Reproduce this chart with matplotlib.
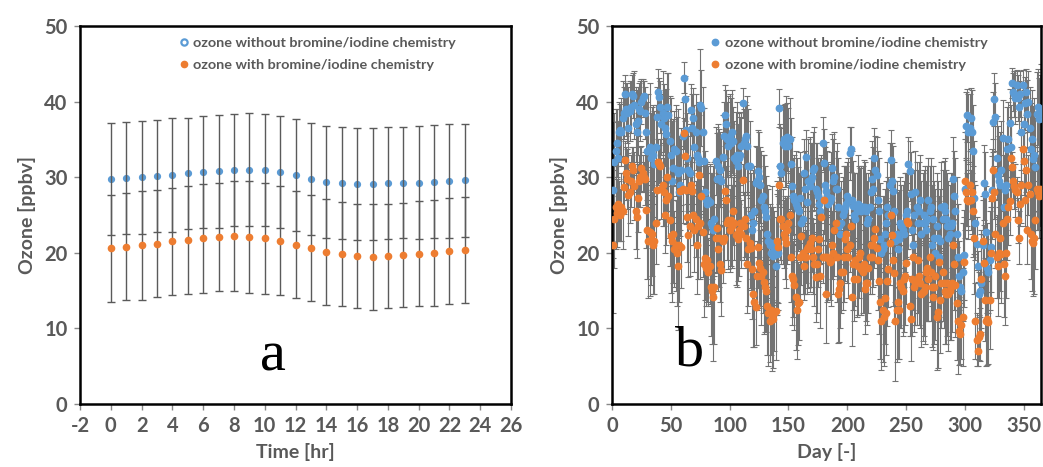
import numpy as np
import matplotlib
matplotlib.use('Agg')
import matplotlib.pyplot as plt
from matplotlib.lines import Line2D

plt.rcParams['axes.unicode_minus'] = False

# ---- panel a : diurnal cycle (hour of day) ----
hours = list(range(24))
hr_no_halogen = [29.8, 29.9, 30.0, 30.2, 30.3, 30.5, 30.7, 30.8, 31.0, 31.0, 31.0, 30.7,
                 30.3, 29.8, 29.4, 29.2, 29.1, 29.1, 29.2, 29.3, 29.3, 29.4, 29.5, 29.6]
hr_no_halogen_sd = [7.4, 7.4, 7.5, 7.4, 7.5, 7.4, 7.4, 7.5, 7.4, 7.5, 7.4, 7.4,
                    7.4, 7.4, 7.4, 7.4, 7.4, 7.4, 7.4, 7.4, 7.5, 7.5, 7.5, 7.5]
hr_halogen = [20.6, 20.8, 21.0, 21.2, 21.5, 21.7, 21.9, 22.1, 22.2, 22.1, 21.9, 21.6,
              21.1, 20.6, 20.1, 19.8, 19.6, 19.5, 19.6, 19.7, 19.9, 20.0, 20.2, 20.4]
hr_halogen_sd = [7.1, 7.1, 7.2, 7.1, 7.1, 7.1, 7.2, 7.2, 7.3, 7.4, 7.3, 7.2,
                 7.1, 7.0, 7.0, 6.9, 6.9, 7.0, 6.9, 6.9, 6.9, 7.0, 7.0, 7.0]

# ---- panel b : daily means over the year ----
day_no_halogen = [
    28.3, 32.0, 33.5, 34.5, 32.5, 36.0, 36.2, 36.0, 37.8, 38.5,
    41.0, 39.0, 38.5, 36.5, 38.8, 39.3, 41.0, 40.8, 39.5, 37.0,
    36.0, 37.5, 39.0, 38.8, 40.0, 40.5, 40.8, 38.5, 36.0, 33.5,
    33.5, 34.0, 32.5, 33.8, 33.0, 31.8, 34.0, 38.0, 41.3, 40.6,
    39.3, 37.0, 38.5, 37.8, 36.5, 35.7, 39.3, 38.3, 34.8, 33.0,
    29.5, 31.2, 33.8, 33.5, 31.0, 30.5, 28.0, 29.0, 31.0, 35.5,
    43.2, 40.4, 36.2, 32.5, 31.0, 30.5, 38.9, 36.5, 37.8, 34.0,
    36.0, 33.0, 32.5, 32.0, 39.5, 39.2, 36.0, 32.2, 28.0, 27.0,
    26.5, 27.0, 26.7, 24.0, 23.5, 23.0, 24.5, 32.2, 29.8, 31.5,
    29.9, 31.0, 29.5, 32.7, 35.5, 38.2, 37.0, 35.0, 34.2, 35.5,
    34.5, 36.0, 34.8, 32.5, 32.2, 33.0, 31.5, 32.5, 33.0, 34.2,
    39.8, 34.5, 35.0, 35.5, 34.2, 31.5, 31.5, 25.0, 23.0, 24.0,
    25.5, 29.2, 29.5, 30.8, 30.0, 29.0, 27.0, 27.5, 26.0, 25.5,
    24.7, 22.5, 21.5, 21.0, 20.0, 21.3, 19.6, 20.5, 18.3, 19.8,
    20.0, 39.2, 31.5, 30.5, 34.5, 35.0, 34.2, 34.7, 35.3, 34.2,
    35.0, 31.8, 28.8, 27.5, 27.0, 26.5, 26.0, 25.8, 25.5, 27.3,
    24.0, 24.5, 30.5, 28.5, 32.7, 26.7, 29.5, 28.8, 29.6, 30.0,
    31.0, 31.2, 28.5, 28.0, 27.5, 26.5, 25.5, 27.0, 34.5, 31.9,
    29.0, 28.2, 27.5, 26.5, 26.8, 27.3, 31.2, 29.5, 30.0, 28.5,
    28.5, 26.0, 23.5, 22.5, 24.0, 25.0, 25.5, 26.0, 26.5, 27.5,
    27.0, 33.2, 33.7, 27.0, 26.2, 25.0, 24.5, 25.5, 26.5, 26.0,
    26.2, 25.5, 26.0, 25.8, 26.0, 25.5, 24.0, 24.5, 26.0, 28.0,
    29.8, 28.5, 32.5, 31.0, 30.3, 27.0, 25.5, 21.8, 20.0, 20.5,
    21.0, 22.5, 24.0, 26.0, 25.0, 29.0, 32.3, 29.5, 28.2, 25.5,
    21.5, 22.5, 20.5, 21.8, 24.0, 23.5, 23.0, 22.5, 24.0, 25.0,
    25.5, 31.8, 30.8, 27.8, 23.0, 21.0, 25.0, 28.0, 26.0, 24.0,
    25.5, 27.0, 22.5, 24.0, 25.0, 24.0, 23.0, 24.5, 27.0, 25.5,
    26.0, 21.0, 24.5, 22.0, 20.0, 23.5, 22.0, 19.5, 21.5, 26.0,
    24.5, 26.2, 25.5, 24.5, 23.5, 22.0, 22.5, 23.5, 24.0, 29.8,
    27.5, 25.5, 22.5, 19.5, 17.0, 15.5, 15.0, 17.5, 19.7, 28.5,
    36.8, 38.2, 36.0, 36.5, 37.8, 36.0, 33.5, 27.3, 24.0, 21.2,
    18.2, 14.5, 15.0, 16.0, 21.0, 29.3, 27.8, 22.8, 18.0, 17.5,
    19.0, 20.8, 28.3, 37.3, 40.3, 38.0, 32.6, 30.3, 29.5, 29.0,
    31.0, 35.2, 26.0, 28.3, 29.0, 33.8, 35.0, 37.2, 34.0, 42.5,
    41.3, 41.0, 40.5, 42.2, 40.5, 39.3, 41.0, 36.0, 42.2, 37.0,
    39.8, 41.3, 38.4, 40.0, 36.5, 33.8, 35.0, 32.4, 33.0, 31.3,
    38.4, 39.3, 37.7, 38.5, 39.0]

day_halogen = [
    21.0, 24.5, 26.0, 25.3, 26.5, 25.5, 25.0, 26.0, 25.5, 28.7,
    32.3, 30.5, 29.8, 27.7, 28.0, 29.5, 31.5, 31.0, 28.8, 25.5,
    24.8, 27.2, 29.5, 30.0, 31.2, 30.5, 30.0, 29.8, 25.7, 23.0,
    21.5, 22.8, 21.7, 22.5, 21.0, 21.5, 24.0, 28.3, 32.0, 31.8,
    31.5, 28.5, 29.0, 28.0, 25.0, 27.0, 30.0, 27.5, 24.3, 22.2,
    21.5, 22.5, 20.5, 21.0, 20.0, 18.3, 21.0, 28.2, 20.8, 28.5,
    35.8, 32.8, 28.3, 24.8, 22.3, 23.5, 29.0, 28.2, 25.0, 23.0,
    24.5, 21.0, 23.5, 30.3, 24.0, 27.5, 22.8, 18.5, 19.3, 18.0,
    19.0, 17.5, 18.2, 15.5, 15.0, 14.2, 15.5, 22.0, 23.3, 20.5,
    22.0, 18.5, 17.7, 21.5, 22.0, 28.2, 27.0, 24.0, 24.3, 23.0,
    24.3, 23.5, 25.5, 24.0, 22.3, 22.5, 21.8, 23.0, 24.0, 22.5,
    29.7, 23.5, 24.5, 22.0, 18.5, 20.5, 21.3, 20.6, 17.8, 14.5,
    13.5, 12.8, 17.0, 20.8, 18.7, 18.0, 17.0, 17.5, 16.2, 15.5,
    15.0, 13.0, 12.0, 11.0, 12.5, 11.8, 11.2, 12.0, 12.3, 21.5,
    20.8, 29.0, 24.5, 24.5, 23.5, 22.5, 22.0, 21.3, 23.0, 24.0,
    25.0, 19.5, 17.0, 16.5, 15.8, 14.2, 12.5, 13.3, 13.5, 19.5,
    22.2, 20.0, 18.3, 19.5, 19.5, 20.5, 20.8, 21.3, 20.5, 22.0,
    19.5, 18.5, 16.8, 18.5, 20.5, 21.8, 17.0, 24.7, 19.5, 27.0,
    19.5, 14.6, 19.5, 19.3, 18.8, 19.0, 21.0, 20.0, 23.0, 24.0,
    19.5, 14.6, 15.2, 16.0, 17.5, 17.5, 19.5, 21.8, 22.5, 20.5,
    19.5, 21.0, 23.5, 14.2, 18.5, 16.5, 19.0, 16.5, 18.3, 19.5,
    20.0, 17.8, 17.5, 18.5, 15.2, 16.0, 16.0, 18.0, 19.5, 21.0,
    19.5, 21.0, 22.0, 23.2, 20.7, 19.0, 16.3, 13.5, 11.0, 12.5,
    11.5, 14.0, 12.0, 16.3, 17.8, 21.3, 25.0, 22.3, 19.0, 17.3,
    11.0, 12.5, 13.5, 12.5, 16.0, 15.5, 15.0, 16.5, 17.0, 18.7,
    24.2, 24.0, 13.0, 11.2, 16.5, 19.5, 15.5, 16.0, 16.5, 19.0,
    17.0, 16.0, 14.5, 14.8, 15.0, 15.5, 17.5, 18.0, 16.5, 19.5,
    17.5, 15.5, 14.2, 15.5, 17.0, 11.5, 12.2, 18.8, 13.7, 16.0,
    17.5, 16.0, 15.0, 14.5, 16.0, 14.5, 15.0, 15.5, 16.0, 21.0,
    18.5, 15.8, 13.3, 11.0, 9.7, 9.3, 10.5, 11.5, 18.8, 29.5,
    28.0, 27.0, 26.8, 29.0, 27.0, 28.0, 25.5, 22.0, 11.0, 8.5,
    7.0, 8.8, 9.2, 16.5, 21.5, 18.7, 13.8, 11.0, 11.2, 10.8,
    13.8, 20.0, 27.3, 31.0, 28.0, 22.5, 19.5, 18.2, 20.0, 22.0,
    19.8, 24.0, 18.5, 17.0, 20.0, 24.5, 26.0, 26.8, 32.5, 31.3,
    29.5, 28.8, 28.3, 28.0, 24.3, 22.0, 26.5, 29.0, 33.8, 32.2,
    27.0, 31.0, 23.0, 29.0, 27.8, 22.5, 21.5, 21.3, 22.0, 24.3,
    28.5, 28.0, 27.5, 28.5, 28.0]

day_sd = [
    9.0, 6.5, 5.5, 4.5, 5.0, 4.0, 3.5, 4.5, 5.0, 3.5,
    2.5, 3.5, 4.0, 5.5, 4.0, 3.5, 2.5, 3.0, 4.5, 5.0,
    5.5, 4.5, 3.5, 4.0, 3.0, 2.5, 2.0, 3.5, 5.0, 6.5,
    7.5, 8.5, 6.0, 5.5, 6.5, 7.0, 5.5, 4.0, 3.0, 2.5,
    3.5, 4.0, 5.5, 4.5, 5.0, 6.0, 4.5, 5.5, 6.0, 7.5,
    8.0, 6.5, 5.0, 6.0, 7.0, 8.5, 7.5, 6.0, 5.5, 4.5,
    2.0, 3.0, 4.5, 6.0, 5.5, 6.5, 3.5, 4.5, 4.0, 5.5,
    5.0, 6.5, 7.0, 8.0, 7.5, 5.0, 6.0, 7.0, 5.5, 5.0,
    5.5, 4.5, 5.0, 6.5, 7.0, 8.5, 7.5, 4.5, 6.0, 5.5,
    6.5, 5.0, 6.0, 5.5, 4.5, 4.0, 4.5, 5.0, 6.5, 5.5,
    6.0, 5.5, 4.5, 5.0, 6.5, 7.0, 5.5, 6.0, 5.0, 4.5,
    2.0, 4.5, 5.0, 4.0, 6.5, 7.5, 6.0, 5.5, 6.5, 7.0,
    6.0, 5.0, 4.5, 5.5, 6.0, 5.0, 6.5, 5.5, 7.0, 6.0,
    5.5, 6.5, 7.0, 5.5, 6.0, 7.5, 6.5, 5.0, 6.5, 8.0,
    7.5, 2.5, 5.5, 6.0, 5.0, 4.5, 5.5, 6.0, 4.5, 5.0,
    5.5, 6.0, 6.5, 5.0, 6.0, 7.0, 6.5, 5.5, 5.0, 6.0,
    6.5, 5.5, 4.5, 5.0, 3.5, 6.0, 5.5, 6.5, 5.0, 4.5,
    5.0, 5.5, 6.0, 6.5, 5.0, 5.5, 7.0, 6.0, 3.5, 4.5,
    5.0, 6.5, 6.0, 5.5, 5.0, 6.0, 4.5, 5.5, 6.0, 5.0,
    6.0, 6.5, 7.0, 6.0, 5.5, 5.0, 6.0, 5.5, 5.0, 4.5,
    5.5, 3.5, 3.0, 6.5, 6.0, 5.5, 6.0, 5.0, 6.5, 5.5,
    5.0, 6.0, 5.5, 6.5, 6.0, 5.0, 5.5, 6.0, 5.0, 4.5,
    5.0, 5.5, 4.0, 4.5, 5.0, 6.5, 7.0, 7.5, 6.5, 7.0,
    6.5, 6.0, 5.5, 6.0, 5.0, 5.5, 4.0, 5.0, 6.0, 6.5,
    8.0, 7.0, 7.5, 6.5, 6.0, 5.5, 6.0, 7.0, 6.5, 5.5,
    5.0, 3.5, 4.0, 5.5, 7.5, 7.0, 6.0, 5.5, 6.0, 7.0,
    6.5, 6.0, 7.0, 6.5, 6.0, 7.5, 6.5, 7.0, 5.5, 6.0,
    6.5, 8.0, 7.0, 7.5, 8.5, 7.0, 7.5, 8.0, 7.0, 6.0,
    6.5, 6.0, 7.0, 6.5, 7.0, 7.5, 6.5, 7.0, 6.5, 5.5,
    6.0, 7.0, 7.5, 7.0, 4.5, 4.0, 4.5, 6.5, 6.0, 6.5,
    4.5, 3.5, 5.0, 4.5, 4.0, 5.5, 6.0, 7.5, 5.0, 3.5,
    2.0, 3.0, 3.5, 6.5, 6.0, 5.0, 5.5, 6.0, 6.0, 5.5,
    6.5, 6.0, 5.5, 4.0, 3.5, 4.5, 5.5, 6.5, 6.0, 7.0,
    6.5, 5.0, 7.0, 6.5, 6.0, 5.5, 5.0, 4.5, 5.5, 2.0,
    2.5, 3.0, 3.5, 2.0, 3.0, 3.5, 3.0, 5.0, 2.0, 4.5,
    3.5, 3.0, 4.5, 4.0, 5.5, 6.0, 6.5, 7.0, 7.5, 6.5,
    5.5, 5.0, 5.5, 5.0, 6.0]
days = list(range(1, len(day_no_halogen) + 1))

label_no = 'ozone without bromine/iodine chemistry'
label_br = 'ozone with bromine/iodine chemistry'

BLUE = '#5B9BD5'
ORANGE = '#ED7D31'
GREY_TXT = '#595959'
BAR = '#737373'
FONT = 'Lato'


def style_axes(ax):
    for s in ax.spines.values():
        s.set_color('black')
        s.set_linewidth(1.8)
    ax.tick_params(axis='both', direction='out', length=4, width=1,
                   color='#888888', labelcolor=GREY_TXT, labelsize=14.5, pad=5)
    for lab in ax.get_xticklabels() + ax.get_yticklabels():
        lab.set_fontweight('bold')
        lab.set_family(FONT)
    ax.set_ylabel('Ozone [ppbv]', fontsize=14, fontweight='bold', color=GREY_TXT,
                  family=FONT, labelpad=6)


fig = plt.figure(figsize=(10.43, 4.67), dpi=100)
ax1 = fig.add_axes([0.0767, 0.135, 0.4133, 0.809])
ax2 = fig.add_axes([0.5868, 0.135, 0.4116, 0.809])

# panel a
ax1.plot(hours, hr_no_halogen, 'o', color=BLUE, ms=4.2, zorder=2)
ax1.errorbar(hours, hr_no_halogen, yerr=hr_no_halogen_sd, fmt='none', ecolor='#5a5a5a',
             elinewidth=1.0, capsize=2.8, capthick=1.0, zorder=3)
ax1.errorbar(hours, hr_halogen, yerr=hr_halogen_sd, fmt='none', ecolor='#5a5a5a',
             elinewidth=1.0, capsize=2.8, capthick=1.0, zorder=3)
ax1.plot(hours, hr_halogen, 'o', color=ORANGE, ms=4.5, zorder=4)
ax1.set_xlim(-2, 26)
ax1.set_ylim(0, 50)
ax1.set_xticks(range(-2, 27, 2))
ax1.set_yticks(range(0, 51, 10))
style_axes(ax1)
ax1.set_xlabel('Time [hr]', fontsize=14, fontweight='bold', color=GREY_TXT,
               family=FONT, labelpad=5)
ax1.text(10.5, 6.3, 'a', fontsize=42, family='Liberation Serif', ha='center', va='center')
h1 = [Line2D([], [], ls='none', marker='o', ms=4.5, mfc='white', mec=BLUE, mew=1.6),
      Line2D([], [], ls='none', marker='o', ms=4.5, color=ORANGE)]
leg1 = ax1.legend(h1, [label_no, label_br], loc='upper left', bbox_to_anchor=(0.2, 1.005),
                  frameon=False, handlelength=0.6, handletextpad=0.35, labelspacing=0.65,
                  prop={'family': FONT, 'weight': 'bold', 'size': 10.4})
for t in leg1.get_texts():
    t.set_color(GREY_TXT)

# panel b
for vals in (day_no_halogen, day_halogen):
    ax2.errorbar(days, vals, yerr=day_sd, fmt='none', ecolor=BAR, elinewidth=0.8,
                 capsize=2.0, capthick=0.8, zorder=2)
ax2.plot(days, day_no_halogen, 'o', color=BLUE, ms=4.6, label=label_no, zorder=3)
ax2.plot(days, day_halogen, 'o', color=ORANGE, ms=4.6, label=label_br, zorder=4)
ax2.set_xlim(0, 365)
ax2.set_ylim(0, 50)
ax2.set_xticks(range(0, 351, 50))
ax2.set_yticks(range(0, 51, 10))
style_axes(ax2)
ax2.set_xlabel('Day [-]', fontsize=14, fontweight='bold', color=GREY_TXT,
               family=FONT, labelpad=5)
ax2.text(66, 6.9, 'b', fontsize=42, family='Liberation Serif', ha='center', va='center')
leg2 = ax2.legend(loc='upper left', bbox_to_anchor=(0.2, 1.005), frameon=False,
                  handlelength=0.6, handletextpad=0.35, labelspacing=0.65,
                  prop={'family': FONT, 'weight': 'bold', 'size': 10.4})
for t in leg2.get_texts():
    t.set_color(GREY_TXT)

fig.savefig('out.png', dpi=100)
